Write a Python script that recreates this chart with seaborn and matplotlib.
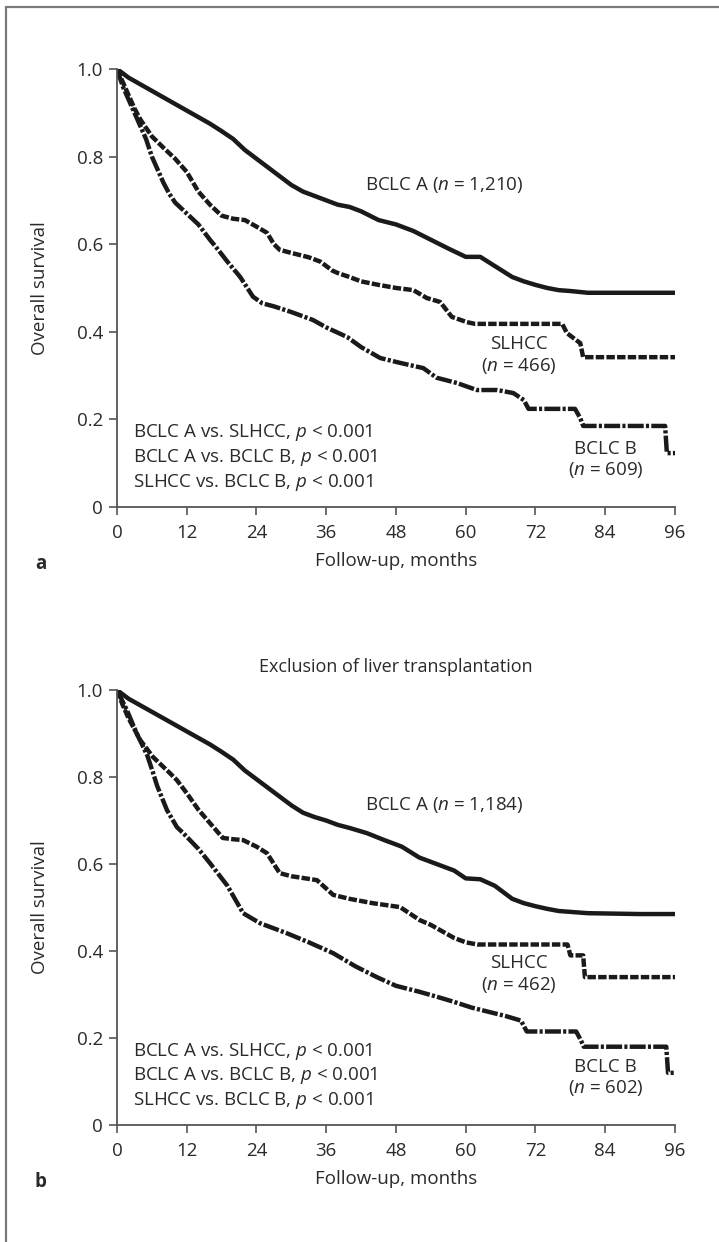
import numpy as np
import pandas as pd
import matplotlib
matplotlib.use("Agg")
import matplotlib.pyplot as plt
import seaborn as sns
from matplotlib.lines import Line2D

# ---------------- data ----------------
# Panel a
a_bclca_t = [0, 1, 2, 4, 6, 8, 10, 12, 14, 16, 18, 20, 22, 24, 26, 28, 30, 32, 34, 36, 38, 40, 42, 45,
             48, 51, 54, 57, 60, 62.5, 65, 68, 70, 72, 74, 76, 78, 81, 96]
a_bclca_s = [1.0, 0.99, 0.98, 0.965, 0.95, 0.935, 0.92, 0.905, 0.89, 0.875, 0.858, 0.84, 0.815, 0.795,
             0.775, 0.755, 0.735, 0.72, 0.71, 0.70, 0.69, 0.685, 0.675, 0.655, 0.645, 0.63, 0.61, 0.59,
             0.571, 0.571, 0.55, 0.525, 0.515, 0.507, 0.50, 0.495, 0.493, 0.489, 0.489]

a_slhcc_t = [0, 1, 2, 3, 4, 6, 8, 10, 12, 14, 16, 18, 20, 22, 24, 25.8, 27, 28, 30, 33, 35, 37, 38, 40,
             42, 45, 48, 51, 53.3, 55.6, 57.6, 60.2, 61.6, 76.6, 77.4, 79.7, 80.2, 96]
a_slhcc_s = [1.0, 0.97, 0.94, 0.91, 0.885, 0.846, 0.82, 0.795, 0.765, 0.72, 0.69, 0.665, 0.658, 0.655,
             0.64, 0.626, 0.60, 0.587, 0.58, 0.57, 0.56, 0.54, 0.534, 0.525, 0.515, 0.507, 0.50, 0.495,
             0.477, 0.468, 0.434, 0.422, 0.418, 0.418, 0.397, 0.374, 0.342, 0.342]

a_bclcb_t = [0, 1, 2, 3, 4, 5, 6, 7, 8, 9, 10, 12, 14, 16, 17, 19, 21.2, 23.4, 25, 27, 30, 33.7, 36,
             39.6, 42, 45.3, 48.7, 52.7, 55, 58.5, 61.9, 65.4, 68.2, 70, 70.8, 78.8, 79.7, 80.2, 94.3,
             94.6, 96]
a_bclcb_s = [1.0, 0.96, 0.93, 0.90, 0.87, 0.84, 0.80, 0.77, 0.74, 0.715, 0.695, 0.67, 0.645, 0.61, 0.594,
             0.56, 0.525, 0.48, 0.465, 0.458, 0.445, 0.427, 0.41, 0.388, 0.365, 0.34, 0.329, 0.317,
             0.295, 0.283, 0.267, 0.267, 0.26, 0.244, 0.224, 0.224, 0.203, 0.185, 0.185, 0.123, 0.123]

# Panel b (exclusion of liver transplantation)
b_bclca_t = [0, 1, 2, 4, 6, 8, 10, 12, 14, 16, 18, 20, 22, 24, 26, 28, 30, 32, 34, 36, 38, 40, 43, 46,
             49, 52, 55, 58, 60, 62.5, 65, 68, 70, 72, 74, 76, 78, 81, 90, 96]
b_bclca_s = [1.0, 0.99, 0.98, 0.965, 0.95, 0.935, 0.92, 0.905, 0.89, 0.875, 0.858, 0.84, 0.815, 0.795,
             0.775, 0.755, 0.735, 0.718, 0.708, 0.70, 0.69, 0.683, 0.671, 0.655, 0.64, 0.615, 0.60,
             0.585, 0.567, 0.565, 0.55, 0.52, 0.51, 0.503, 0.497, 0.492, 0.49, 0.487, 0.485, 0.485]

b_slhcc_t = [0, 1, 2, 4, 6.2, 9.1, 10.3, 12, 14, 16, 18.2, 20, 21.7, 24, 25.8, 28, 30, 34.4, 37.2, 40,
             44, 48.7, 52.1, 54, 56, 58, 60, 62, 77.5, 78, 80.2, 80.5, 96]
b_slhcc_s = [1.0, 0.965, 0.935, 0.885, 0.846, 0.809, 0.793, 0.763, 0.725, 0.694, 0.66, 0.657, 0.655,
             0.64, 0.625, 0.579, 0.572, 0.563, 0.529, 0.52, 0.51, 0.501, 0.471, 0.46, 0.445, 0.43, 0.42,
             0.415, 0.415, 0.39, 0.39, 0.34, 0.34]

b_bclcb_t = [0, 1.7, 3.4, 5.2, 6.2, 6.9, 8.6, 10.3, 11.4, 14, 16, 19, 21.7, 24.6, 29.2, 33, 37.2, 41,
             44.7, 48, 52.1, 55, 58, 61, 64, 67, 69.5, 70.5, 79, 79.8, 80.3, 94.5, 94.8, 96]
b_bclcb_s = [1.0, 0.954, 0.90, 0.85, 0.81, 0.78, 0.724, 0.685, 0.671, 0.635, 0.602, 0.55, 0.487, 0.464,
             0.441, 0.42, 0.395, 0.365, 0.34, 0.32, 0.306, 0.295, 0.283, 0.27, 0.26, 0.25, 0.24, 0.215,
             0.215, 0.195, 0.18, 0.18, 0.12, 0.12]

x_ticks = [0, 12, 24, 36, 48, 60, 72, 84, 96]
y_ticks = [0, 0.2, 0.4, 0.6, 0.8, 1.0]
y_ticklabels = ["0", "0.2", "0.4", "0.6", "0.8", "1.0"]

labels_a = ["BCLC A ($n$ = 1,210)", "SLHCC\n($n$ = 466)", "BCLC B\n($n$ = 609)"]
labels_b = ["BCLC A ($n$ = 1,184)", "SLHCC\n($n$ = 462)", "BCLC B\n($n$ = 602)"]
pvals = "BCLC A vs. SLHCC, $p$ < 0.001\nBCLC A vs. BCLC B, $p$ < 0.001\nSLHCC vs. BCLC B, $p$ < 0.001"

# ---------------- style ----------------
sns.set_theme(style="ticks")
plt.rcParams["font.family"] = ["Open Sans", "DejaVu Sans"]
plt.rcParams["mathtext.fontset"] = "custom"
plt.rcParams["mathtext.rm"] = "Open Sans"
plt.rcParams["mathtext.it"] = "Open Sans:italic"
TXT = "#2a2a2a"
AX = "#555555"
LINE = "#1a1a1a"
FS = 13.5

fig = plt.figure(figsize=(7.19, 12.42), dpi=100)
ax_a = fig.add_axes([0.1627, 0.5918, 0.7761, 0.3527])
ax_b = fig.add_axes([0.1627, 0.0942, 0.7761, 0.3502])

styles = [
    dict(linestyle="-"),
    dict(linestyle=(0, (1.9, 0.5))),
    dict(linestyle=(0, (3.6, 0.5, 0.7, 0.5))),
]


def draw(ax, curves, labels, letter, title=None):
    for (t, s), st in zip(curves, styles):
        df = pd.DataFrame({"month": t, "surv": s})
        sns.lineplot(data=df, x="month", y="surv", ax=ax, estimator=None, sort=False,
                     color=LINE, linewidth=3.2, solid_capstyle="butt",
                     dash_capstyle="butt", **st)
    ax.set_xlim(0, 96)
    ax.set_ylim(0, 1.0)
    ax.set_xticks(x_ticks)
    ax.set_xticklabels([str(v) for v in x_ticks])
    ax.set_yticks(y_ticks)
    ax.set_yticklabels(y_ticklabels)
    ax.tick_params(axis="both", colors=AX, labelcolor=TXT, labelsize=FS, length=6, width=1.2,
                   direction="out")
    ax.tick_params(axis="x", pad=6.5)
    ax.tick_params(axis="y", pad=4)
    for side in ["top", "right"]:
        ax.spines[side].set_visible(False)
    for side in ["left", "bottom"]:
        ax.spines[side].set_color(AX)
        ax.spines[side].set_linewidth(1.3)
    ax.set_xlabel("Follow-up, months", fontsize=FS, color=TXT, labelpad=7)
    ax.set_ylabel("Overall survival", fontsize=FS, color=TXT, labelpad=20)
    ax.set_facecolor("white")
    # curve labels
    ax.text(42.7, 0.735, labels[0], fontsize=FS, color=TXT, ha="left", va="center")
    ax.text(69.2, 0.346, labels[1], fontsize=FS, color=TXT, ha="center", va="center",
            linespacing=1.15)
    ax.text(84.1, 0.108, labels[2], fontsize=FS, color=TXT, ha="center", va="center",
            linespacing=1.15)
    ax.text(2.75, 0.113, pvals, fontsize=FS, color=TXT, ha="left", va="center",
            linespacing=1.25)
    ax.text(-0.147, -0.13, letter, transform=ax.transAxes, fontsize=FS,
            fontweight="bold", color=TXT, ha="left", va="center")
    if title:
        ax.set_title(title, fontsize=FS - 0.5, color=TXT, pad=13)


draw(ax_a, [(a_bclca_t, a_bclca_s), (a_slhcc_t, a_slhcc_s), (a_bclcb_t, a_bclcb_s)],
     labels_a, "a")
draw(ax_b, [(b_bclca_t, b_bclca_s), (b_slhcc_t, b_slhcc_s), (b_bclcb_t, b_bclcb_s)],
     labels_b, "b", title="Exclusion of liver transplantation")

# outer frame (left and top edges visible)
W, H = 719, 1242
fig.add_artist(Line2D([6 / W, 6 / W], [0, 1 - 7 / H], color="#7a7a7a", linewidth=1.6,
                      transform=fig.transFigure))
fig.add_artist(Line2D([6 / W, 1], [1 - 7 / H, 1 - 7 / H], color="#7a7a7a", linewidth=1.6,
                      transform=fig.transFigure))

fig.savefig("out.png", dpi=100, facecolor="white")
